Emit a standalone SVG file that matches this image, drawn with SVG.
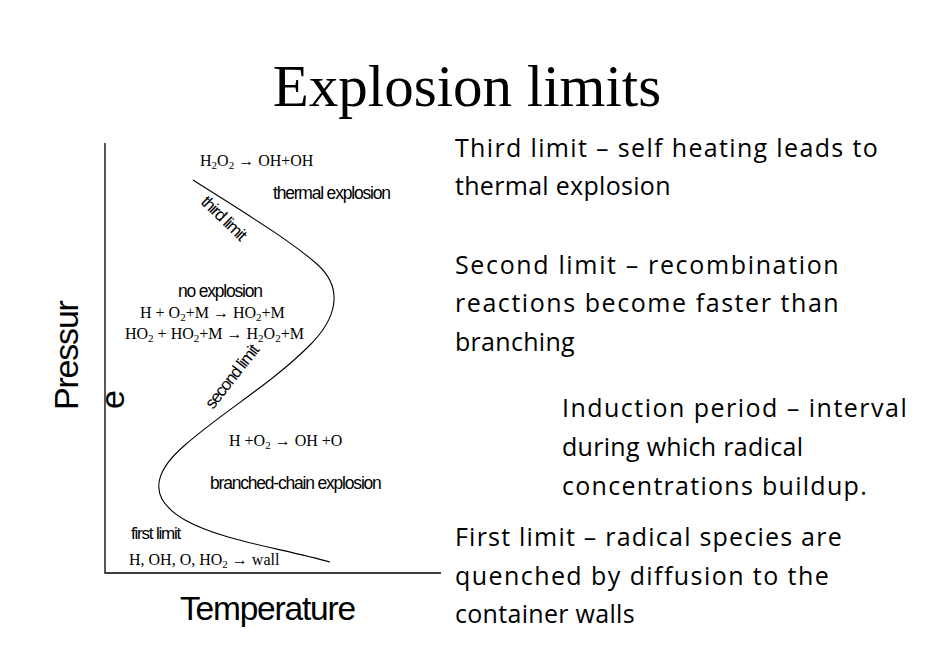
<svg xmlns="http://www.w3.org/2000/svg" width="928" height="661" viewBox="0 0 928 661">
<style>
.t{font-family:"Liberation Serif",serif;fill:#000}
.s{font-family:"Liberation Sans",Arial,sans-serif;fill:#000;letter-spacing:-1.2px}
.r{font-family:"Open Sans","Noto Sans",sans-serif;fill:#000;font-size:25px;letter-spacing:0.3px}
.f{font-family:"Liberation Serif",serif;font-size:16px;fill:#000}
.b{font-size:11px}
</style>
<rect width="928" height="661" fill="#fff"/>
<text class="t" x="467" y="106" font-size="59" text-anchor="middle">Explosion limits</text>
<g id="axes" stroke="#000" stroke-width="1.3" fill="none">
<path d="M105,143 V573 H441"/>
</g>
<g id="connectors">
<path d="M193,180 C240,210 290,240 318,265 C345,290 335,320 310,345 C270,385 225,410 185,445 C150,475 150,500 185,520 C220,540 280,548 330,562" fill="none" stroke="#000" stroke-width="1.1"/>
</g>
<g id="labels">
<text class="f" x="200" y="166">H<tspan class="b" dy="3">2</tspan><tspan dy="-3">O</tspan><tspan class="b" dy="3">2</tspan><tspan dy="-3"> → OH+OH</tspan></text>
<text class="s" x="273" y="199" font-size="17.5">thermal explosion</text>
<text class="s" font-size="17" transform="translate(200,203) rotate(44)">third limit</text>
<text class="s" x="178" y="297" font-size="17.5">no explosion</text>
<text class="f" x="140" y="318">H + O<tspan class="b" dy="3">2</tspan><tspan dy="-3">+M  → HO</tspan><tspan class="b" dy="3">2</tspan><tspan dy="-3">+M</tspan></text>
<text class="f" x="125" y="339">HO<tspan class="b" dy="3">2</tspan><tspan dy="-3"> + HO</tspan><tspan class="b" dy="3">2</tspan><tspan dy="-3">+M → H</tspan><tspan class="b" dy="3">2</tspan><tspan dy="-3">O</tspan><tspan class="b" dy="3">2</tspan><tspan dy="-3">+M</tspan></text>
<text class="s" font-size="17" transform="translate(213,410) rotate(-52)">second limit</text>
<text class="f" x="229" y="446">H +O<tspan class="b" dy="3">2</tspan><tspan dy="-3"> → OH +O</tspan></text>
<text class="s" x="210" y="489" font-size="17.5">branched-chain explosion</text>
<text class="s" x="131" y="539" font-size="17">first limit</text>
<text class="f" x="129" y="565">H, OH, O, HO<tspan class="b" dy="3">2</tspan><tspan dy="-3"> → wall</tspan></text>
<text class="s" font-size="34" transform="translate(78,410) rotate(-90)">Pressur</text>
<text class="s" font-size="34" transform="translate(124,409) rotate(-90)">e</text>
<text class="s" x="180" y="620" font-size="33.5">Temperature</text>
</g>
<g id="text">
<text class="r" x="455" y="157" textLength="423">Third limit – self heating leads to</text>
<text class="r" x="455" y="195">thermal explosion</text>
<text class="r" x="455" y="274" textLength="384">Second limit – recombination</text>
<text class="r" x="455" y="312" textLength="384">reactions become faster than</text>
<text class="r" x="455" y="351">branching</text>
<text class="r" x="562" y="417" textLength="345">Induction period – interval</text>
<text class="r" x="562" y="456">during which radical</text>
<text class="r" x="562" y="495" textLength="305">concentrations buildup.</text>
<text class="r" x="455" y="546" textLength="387">First limit – radical species are</text>
<text class="r" x="455" y="585" textLength="374">quenched by diffusion to the</text>
<text class="r" x="455" y="623">container walls</text>
</g>
</svg>
